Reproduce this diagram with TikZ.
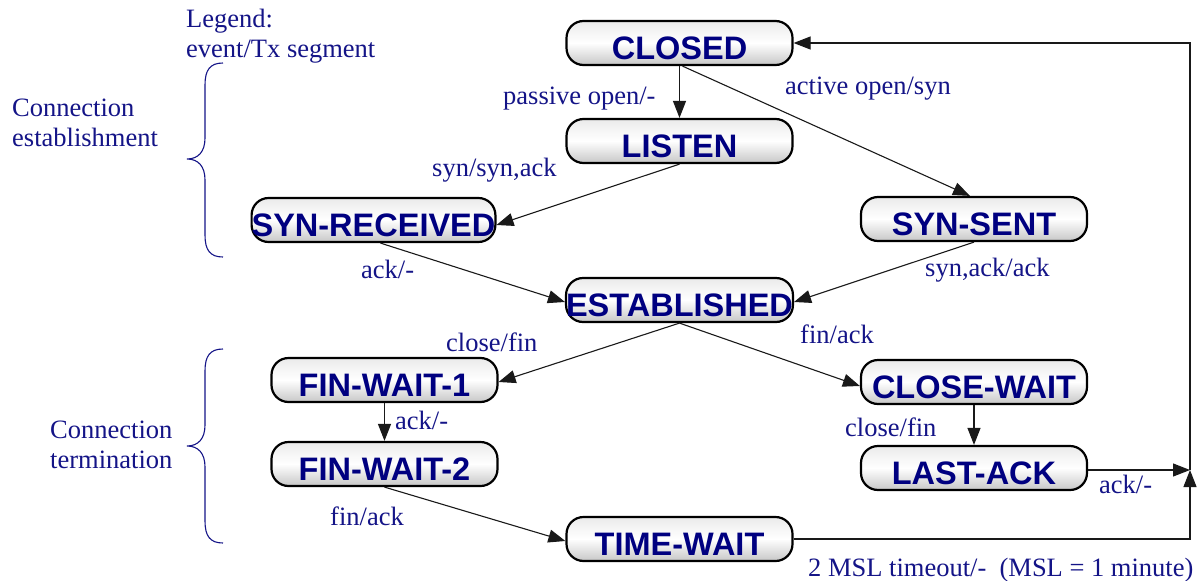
\documentclass[tikz,border=0pt]{standalone}
\usepackage{fontspec}
\setmainfont{Liberation Serif}
\newfontfamily\statefont{Liberation Sans}[BoldFont={Liberation Sans Bold}]
\usetikzlibrary{arrows.meta,shadings}
\definecolor{txtblue}{RGB}{20,20,135}
\definecolor{stblue}{RGB}{0,0,128}
\tikzset{
  state/.style={draw=black, line width=2.2pt, rounded corners=17pt,
    minimum width=226pt, minimum height=44pt, inner sep=0pt,
    text height=32pt, text depth=0pt,
    top color=white!92!black, bottom color=black!22, middle color=white,
    font=\statefont\bfseries\fontsize{32.5}{32.5}\selectfont, text=stblue},
  lbl/.style={anchor=base west, inner sep=0pt, text=txtblue,
    font=\fontsize{26.5}{30}\selectfont},
  conn/.style={draw=black!90, line width=1.1pt,
    -{Triangle[length=17pt,width=13pt]}},
  brace/.style={draw=txtblue, line width=1.1pt}
}
\begin{document}
\begin{tikzpicture}[x=1pt,y=-1pt]
\useasboundingbox (0,0) rectangle (1197,581);
% states
\node[state] (closed) at (679.5,43) {CLOSED};
\node[state] (listen) at (679.5,141) {LISTEN};
\node[state] (synrec) at (373.5,220) {SYN-RECEIVED};
\node[state] (synsent) at (974,219) {SYN-SENT};
\node[state] (est) at (679.5,300) {ESTABLISHED};
\node[state] (fw1) at (384.5,380) {FIN-WAIT-1};
\node[state] (cw) at (974,382) {CLOSE-WAIT};
\node[state] (fw2) at (384.5,464) {FIN-WAIT-2};
\node[state] (la) at (974,468) {LAST-ACK};
\node[state] (tw) at (679.5,539) {TIME-WAIT};
\coordinate (c1) at (1190,470);
\coordinate (c2) at (1190,539);
% connectors
\draw[conn] (closed.south) -- (listen.north);
\draw[conn] ([xshift=3pt]closed.south) -- ([xshift=-4pt]synsent.north);
\draw[conn] (listen.south) -- ([yshift=-5pt]synrec.east);
\draw[conn] ([xshift=7pt]synrec.south) -- ([yshift=-2pt]est.west);
\draw[conn] (synsent.south) -- ([yshift=-2pt]est.east);
\draw[conn] (est.south) -- ([yshift=-2pt]fw1.east);
\draw[conn] (est.south) -- ([yshift=-4pt]cw.west);
\draw[conn] (fw1.south) -- (fw2.north);
\draw[conn] (cw.south) -- (la.north);
\draw[conn] (fw2.south) -- ([yshift=-2pt]tw.west);
\draw[conn] ([yshift=-2pt]la.east) -- (c1);
\draw[conn] (tw.east) -- (c2) -- (c1);
\draw[conn] (c1) |- (closed.east);
% labels
\node[lbl] (leg1) at (186,27) {Legend:};
\node[lbl] (leg2) at (186,57) {event/Tx segment};
\node[lbl] (l1) at (503,104) {passive open/-};
\node[lbl] (l2) at (785,94) {active open/syn};
\node[lbl] (l3) at (432,176) {syn/syn,ack};
\node[lbl] (l4) at (361,278) {ack/-};
\node[lbl] (l5) at (925,276) {syn,ack/ack};
\node[lbl] (l6) at (446,351) {close/fin};
\node[lbl] (l7) at (800,343) {fin/ack};
\node[lbl] (l8) at (395,429) {ack/-};
\node[lbl] (l9) at (845,436) {close/fin};
\node[lbl] (l10) at (330,525) {fin/ack};
\node[lbl] (l11) at (1099,493) {ack/-};
\node[lbl] (l12) at (808,576) {2 MSL timeout/-\ \ (MSL = 1 minute)};
\node[lbl] (ce1) at (12,116) {Connection};
\node[lbl] (ce2) at (12,146) {establishment};
\node[lbl] (ct1) at (50,438) {Connection};
\node[lbl] (ct2) at (50,468) {termination};
% braces
\draw[brace] (223,63) .. controls (210,63) and (205,70) .. (205,85)
  -- (205,138) .. controls (205,152) and (198,159) .. (187,159)
  .. controls (198,159) and (205,166) .. (205,180)
  -- (205,235) .. controls (205,250) and (210,257) .. (223,257);
\draw[brace] (223,349) .. controls (210,349) and (205,356) .. (205,371)
  -- (205,425) .. controls (205,439) and (198,446) .. (187,446)
  .. controls (198,446) and (205,453) .. (205,467)
  -- (205,521) .. controls (205,536) and (210,543) .. (223,543);
\end{tikzpicture}
\end{document}
